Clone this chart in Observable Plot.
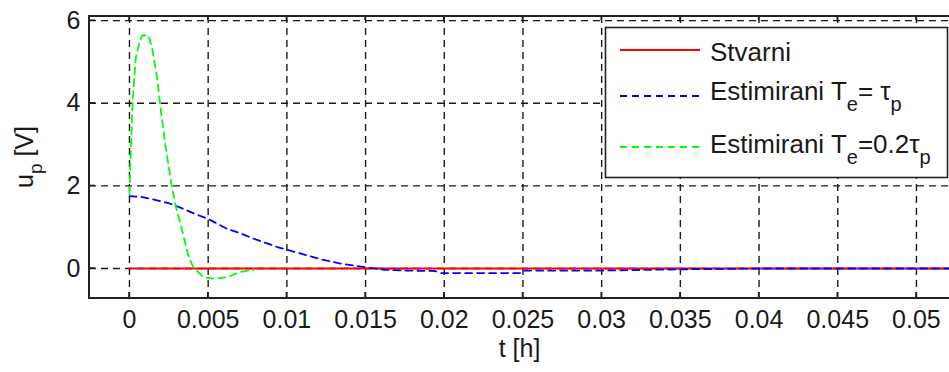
<!DOCTYPE html>
<html>
<head>
<meta charset="utf-8">
<script src="https://cdn.jsdelivr.net/npm/d3@7"></script>
<script src="https://cdn.jsdelivr.net/npm/@observablehq/plot@0.6"></script>
<style>
  body { margin: 0; background: #fff; }
  #chart { position: relative; width: 949px; height: 372px; overflow: hidden; }
</style>
</head>
<body>
<div id="chart"></div>
<script>
// ---- data ----
const xTicks = [0, 0.005, 0.01, 0.015, 0.02, 0.025, 0.03, 0.035, 0.04, 0.045, 0.05];
const xTickLabels = ["0", "0.005", "0.01", "0.015", "0.02", "0.025", "0.03", "0.035", "0.04", "0.045", "0.05"];
const yTicks = [0, 2, 4, 6];
const yTickLabels = ["0", "2", "4", "6"];
const xDomain = [-0.00254, 0.0521];
const yDomain = [-0.726, 6.1];

const seriesNames = ["Stvarni", "Estimirani Te= τp", "Estimirani Te=0.2τp"];

// Stvarni (actual)
const tReal = [0, 0.0521];
const uReal = [0, 0];

// Estimirani Te = tau_p
const tEst1 = [0, 0.0008, 0.00175, 0.0025, 0.0032, 0.0041, 0.005, 0.0062, 0.007, 0.0079, 0.0094, 0.0109, 0.0121, 0.0134, 0.015, 0.0162, 0.0175, 0.0194, 0.0198, 0.0249, 0.0251, 0.03, 0.035, 0.04, 0.0521];
const uEst1 = [1.75, 1.73, 1.65, 1.58, 1.48, 1.33, 1.2, 0.96, 0.86, 0.72, 0.52, 0.36, 0.23, 0.12, 0.03, -0.03, -0.05, -0.06, -0.11, -0.11, -0.05, -0.05, -0.02, 0, 0];

// Estimirani Te = 0.2 tau_p
const tEst2 = [0, 0.00006, 0.0002, 0.0004, 0.0006, 0.0008, 0.0012, 0.00143, 0.00175, 0.00197, 0.0023, 0.0027, 0.0029, 0.00335, 0.0037, 0.00405, 0.0047, 0.0054, 0.0062, 0.007, 0.0079];
const uEst2 = [1.8, 2.6, 4.06, 5.1, 5.43, 5.64, 5.64, 5.35, 4.63, 3.9, 2.93, 1.97, 1.57, 0.92, 0.36, 0.03, -0.21, -0.25, -0.21, -0.09, -0.03];

// ---- build ----
const toRows = (ts, us) => ts.map((t, i) => ({t, u: us[i]}));
const real = toRows(tReal, uReal);
const est1 = toRows(tEst1, uEst1);
const est2 = toRows(tEst2, uEst2);
const xLab = new Map(xTicks.map((v, i) => [v, xTickLabels[i]]));
const yLab = new Map(yTicks.map((v, i) => [v, yTickLabels[i]]));

const FONT = "'Liberation Sans', Arial, Helvetica, sans-serif";
const INK = "#1a1a1a";
const DASH = "7,5";

const plot = Plot.plot({
  width: 949,
  height: 372,
  marginLeft: 89,
  marginRight: 0,
  marginTop: 16,
  marginBottom: 74,
  style: { fontFamily: FONT, fontSize: "25px", color: INK, background: "#fff", overflow: "hidden" },
  x: { domain: xDomain },
  y: { domain: yDomain },
  marks: [
    Plot.gridX(xTicks, { stroke: INK, strokeOpacity: 1, strokeWidth: 1.4, strokeDasharray: DASH }),
    Plot.gridY(yTicks, { stroke: INK, strokeOpacity: 1, strokeWidth: 1.4, strokeDasharray: DASH }),
    Plot.axisX(xTicks, { tickSize: 0, tickPadding: 12, tickFormat: d => xLab.get(d), label: null, fill: INK }),
    Plot.axisY(yTicks, { tickSize: 0, tickPadding: 9, tickFormat: d => yLab.get(d), label: null, fill: INK }),
    Plot.line(real, { x: "t", y: "u", stroke: "#ff0000", strokeWidth: 1.8, clip: true }),
    Plot.line(est1, { x: "t", y: "u", stroke: "#0000ff", strokeWidth: 1.8, strokeDasharray: DASH, clip: true }),
    Plot.line(est2, { x: "t", y: "u", stroke: "#00ff00", strokeWidth: 1.8, strokeDasharray: DASH, clip: true }),
    Plot.text(["t [h]"], { frameAnchor: "bottom", dy: 58, fontSize: 25, fill: INK })
  ]
});

const sx = plot.scale("x");
const sy = plot.scale("y");
const svg = d3.select(plot);
const x0 = sx.apply(xDomain[0]);
const x1 = 949;
const yB = sy.apply(yDomain[0]);
const yT = sy.apply(yDomain[1]);

// inward tick marks
const g = svg.append("g").attr("stroke", INK).attr("stroke-width", 1.4);
xTicks.forEach(v => {
  const px = sx.apply(v);
  g.append("line").attr("x1", px).attr("x2", px).attr("y1", yB).attr("y2", yB - 6);
  g.append("line").attr("x1", px).attr("x2", px).attr("y1", yT).attr("y2", yT + 4);
});
yTicks.forEach(v => {
  const py = sy.apply(v);
  g.append("line").attr("x1", x0).attr("x2", x0 + 6).attr("y1", py).attr("y2", py);
});
// frame (right edge is cropped off in the reference)
const fr = svg.append("g").attr("stroke", "#222").attr("stroke-width", 2).attr("fill", "none");
fr.append("path").attr("d", `M${x1},${yT}H${x0}V${yB}H${x1}`);

// y label with subscript
const yl = svg.append("text")
  .attr("transform", "translate(33,157) rotate(-90)")
  .attr("text-anchor", "middle")
  .attr("fill", INK)
  .attr("font-size", 25)
  .attr("font-family", FONT);
yl.append("tspan").text("u");
yl.append("tspan").attr("font-size", 19).attr("dy", 9).text("p");
yl.append("tspan").attr("dy", -9).text(" [V]");

// legend
const lg = svg.append("g").attr("font-family", FONT).attr("font-size", 26).attr("fill", INK)
  .attr("text-anchor", "start");
lg.append("rect").attr("x", 605.5).attr("y", 27.5).attr("width", 342).attr("height", 150)
  .attr("fill", "#fff").attr("stroke", "#222").attr("stroke-width", 1.6);
const legendRows = [
  { name: seriesNames[0], color: "#ff0000", dash: null, lineY: 50, base: 61,
    parts: [["Stvarni", false]] },
  { name: seriesNames[1], color: "#0000ff", dash: DASH, lineY: 96, base: 100,
    parts: [["Estimirani T", false], ["e", true], ["= τ", false], ["p", true]] },
  { name: seriesNames[2], color: "#00ff00", dash: DASH, lineY: 147, base: 153,
    parts: [["Estimirani T", false], ["e", true], ["=0.2τ", false], ["p", true]] }
];
legendRows.forEach(r => {
  const ln = lg.append("line").attr("x1", 620).attr("x2", 700).attr("y1", r.lineY).attr("y2", r.lineY)
    .attr("stroke", r.color).attr("stroke-width", 1.8);
  if (r.dash) ln.attr("stroke-dasharray", r.dash);
  const t = lg.append("text").attr("x", 710).attr("y", r.base).attr("text-anchor", "start");
  let sub = false;
  r.parts.forEach(([s, isSub]) => {
    const ts = t.append("tspan").text(s);
    if (isSub && !sub) { ts.attr("dy", 11).attr("font-size", 20); sub = true; }
    else if (!isSub && sub) { ts.attr("dy", -11); sub = false; }
  });
});

document.getElementById("chart").appendChild(plot);
</script>
</body>
</html>
